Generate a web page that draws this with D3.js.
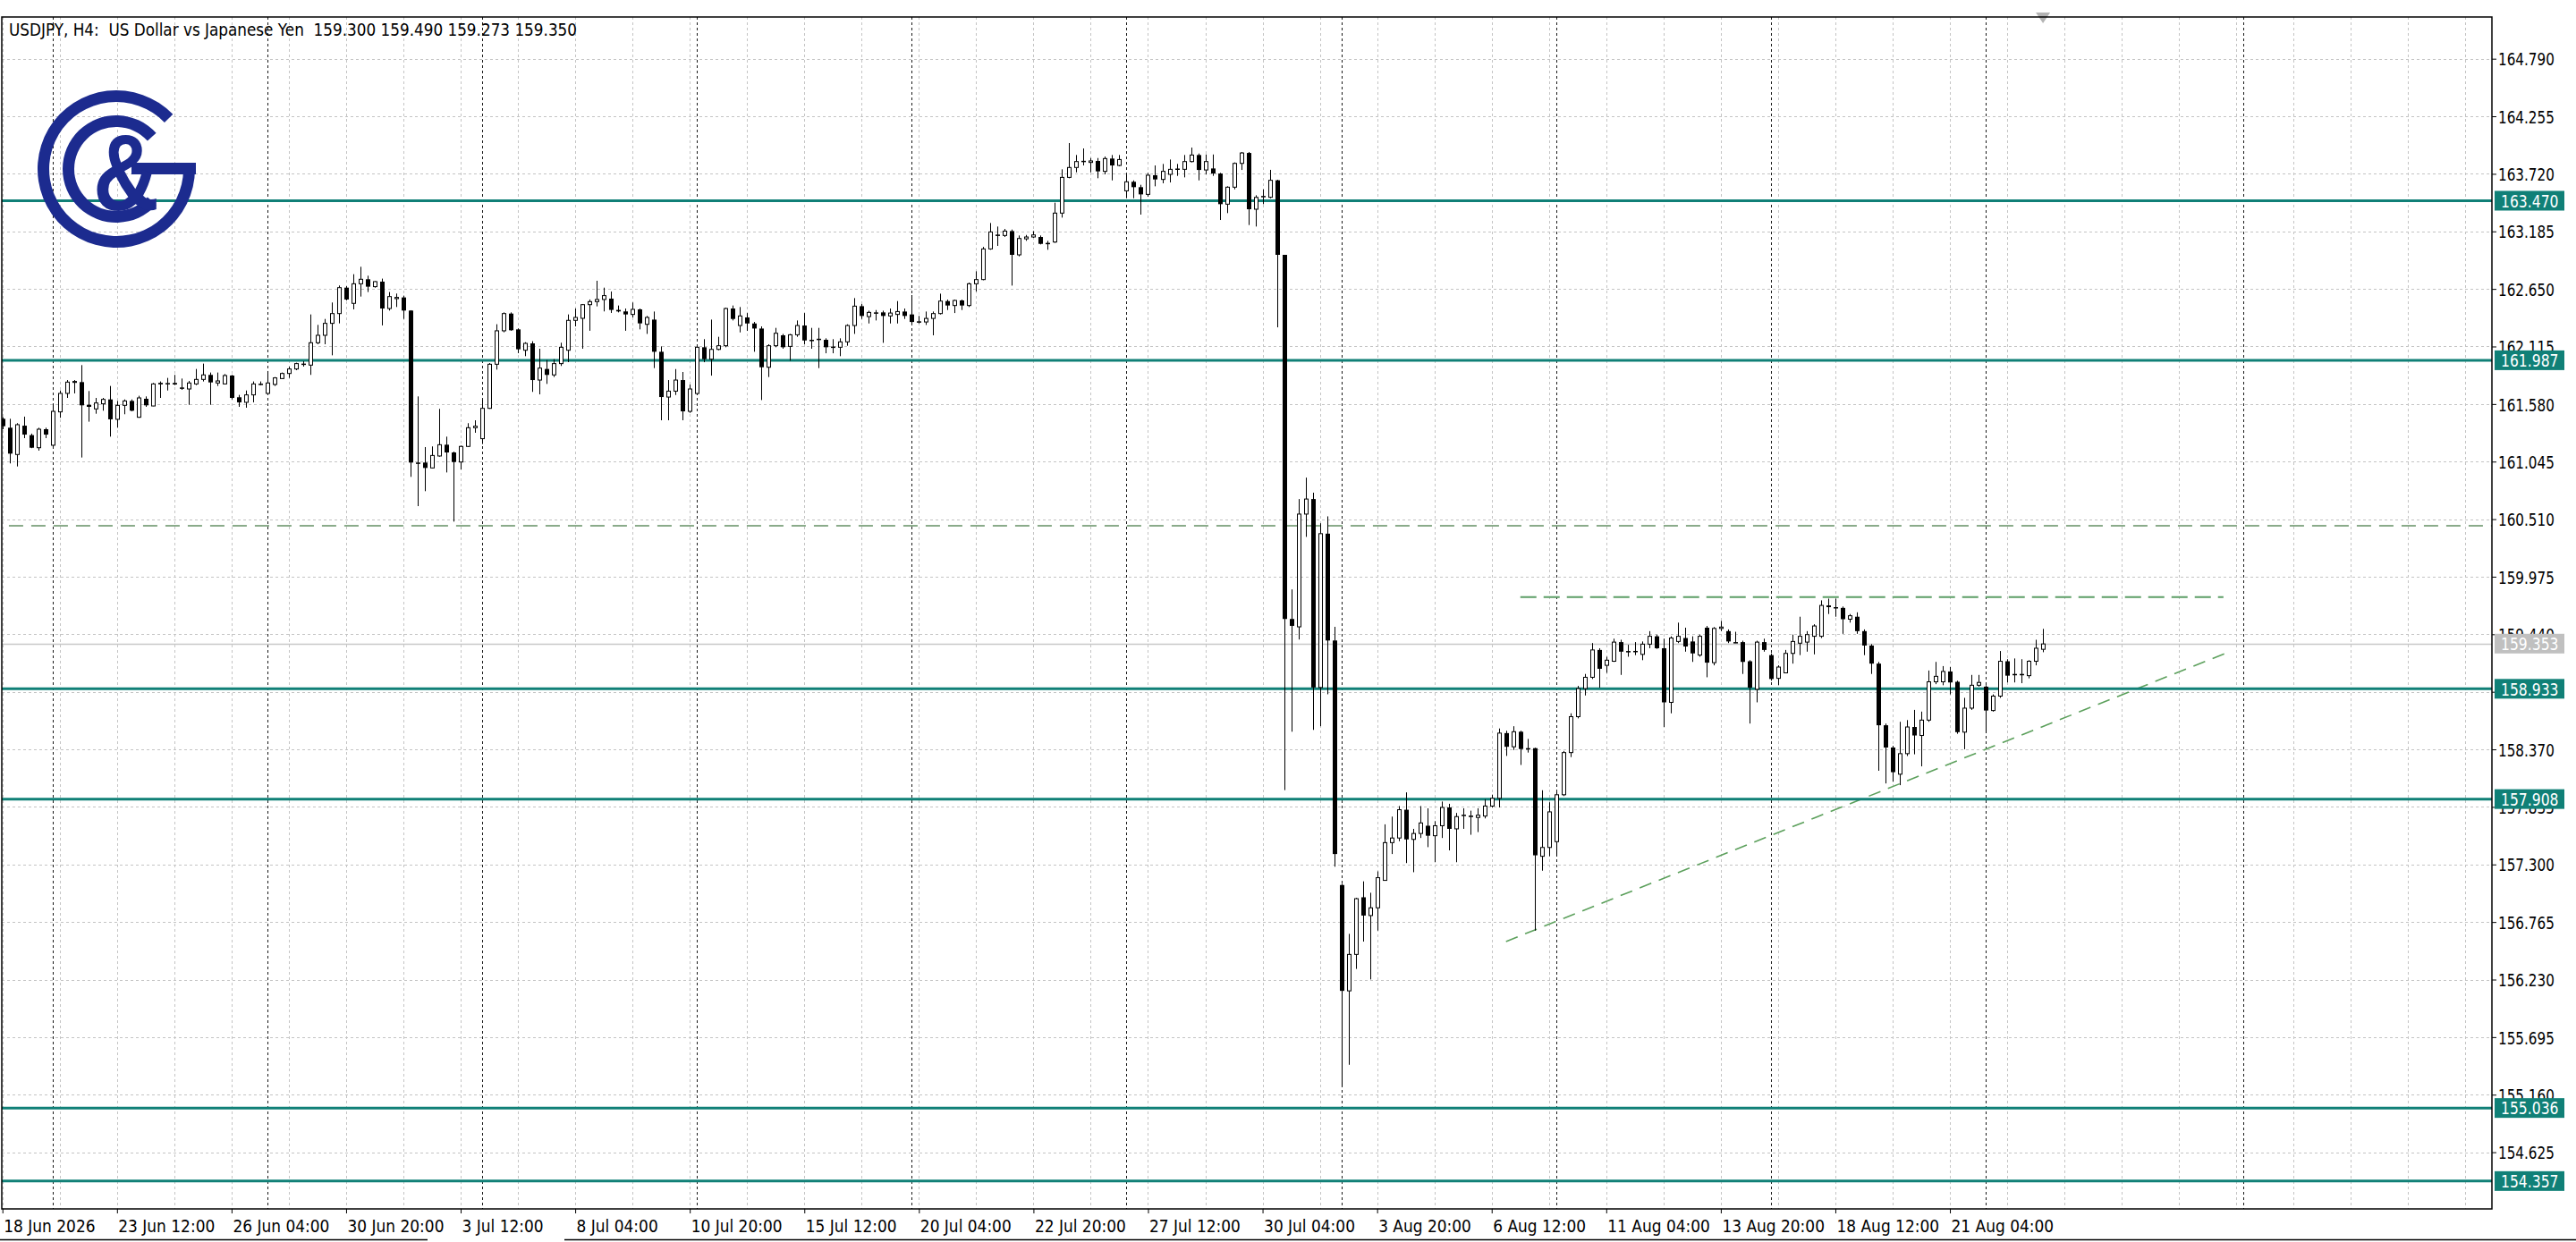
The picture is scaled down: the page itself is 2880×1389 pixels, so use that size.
<!DOCTYPE html>
<html><head><meta charset="utf-8">
<script src="https://cdn.jsdelivr.net/npm/d3@7"></script>
<style>html,body{margin:0;padding:0;background:#fff;}svg{display:block;}</style>
</head><body>
<svg id="chart" width="2880" height="1389"></svg>
<script>
// ---------------- DATA ----------------
const symbolName = "USDJPY, H4:  US Dollar vs Japanese Yen";
const openP = [161.443,161.360,161.111,161.379,161.291,161.174,161.346,161.197,161.507,161.679,
161.781,161.784,161.573,161.535,161.582,161.623,161.438,161.568,161.609,161.457,
161.629,161.562,161.767,161.770,161.776,161.734,161.720,161.767,161.809,161.851,
161.776,161.767,161.845,161.643,161.596,161.665,161.762,161.679,161.762,161.817,
161.864,161.906,161.956,161.942,162.150,162.219,162.330,162.421,162.662,162.516,
162.698,162.740,162.671,162.718,162.468,162.560,162.571,162.449,161.036,161.036,
160.986,161.097,161.202,161.130,161.041,161.186,161.360,161.258,161.540,161.950,
162.261,162.421,162.274,162.080,162.144,161.803,161.906,161.851,161.956,162.080,
162.358,162.377,162.504,162.532,162.552,162.560,162.455,162.441,162.413,162.460,
162.321,162.365,162.066,161.645,161.700,161.803,161.512,161.678,162.108,161.997,
162.088,162.122,162.468,162.310,162.385,162.329,162.282,161.922,162.122,162.219,
162.116,162.224,162.310,162.177,162.180,162.177,162.108,162.108,162.158,162.310,
162.490,162.393,162.432,162.432,162.399,162.413,162.440,162.413,162.349,162.343,
162.376,162.421,162.537,162.496,162.543,162.496,162.698,162.737,163.022,163.155,
163.147,163.188,162.967,163.116,163.133,163.133,163.078,163.086,163.355,163.687,
163.779,163.834,163.826,163.840,163.743,163.862,163.798,163.562,163.646,163.596,
163.529,163.707,163.668,163.715,163.762,163.762,163.834,163.895,163.756,163.770,
163.723,163.438,163.596,163.817,163.914,163.391,163.507,163.502,163.660,162.967,
159.582,159.509,160.557,160.697,158.945,160.375,159.382,157.109,156.125,156.464,
156.995,156.825,156.897,157.152,157.503,157.546,157.809,157.533,157.588,157.660,
157.567,157.660,157.830,157.631,157.754,157.745,157.737,157.750,157.843,157.915,
158.521,158.394,158.534,158.381,158.381,157.376,157.458,157.512,157.948,158.340,
158.674,158.935,159.040,159.294,159.151,159.189,159.367,159.284,159.278,159.253,
159.348,159.421,159.310,158.807,159.373,159.405,159.373,159.246,159.501,159.176,
159.494,159.469,159.367,159.367,159.189,158.928,159.367,159.246,159.030,159.081,
159.262,159.357,159.367,159.421,159.421,159.708,159.692,159.685,159.580,159.603,
159.469,159.335,159.167,158.594,158.387,158.139,158.330,158.578,158.499,158.642,
158.998,158.998,159.094,158.998,158.530,158.753,158.966,158.953,158.731,158.865,
159.189,159.071,159.071,159.055,159.189,159.300];
const highP = [161.457,161.443,161.402,161.463,161.305,161.360,161.360,161.582,161.706,161.803,
161.803,161.942,161.701,161.637,161.637,161.748,161.609,161.623,161.623,161.657,
161.651,161.776,161.790,161.823,161.851,161.817,161.795,161.906,161.956,161.873,
161.873,161.859,161.851,161.665,161.706,161.790,161.790,161.887,161.831,161.873,
161.928,161.964,161.978,162.413,162.316,162.371,162.524,162.682,162.676,162.787,
162.856,162.773,162.723,162.746,162.621,162.607,162.588,162.452,161.651,161.180,
161.186,161.535,161.277,161.138,161.194,161.402,161.429,161.623,161.961,162.322,
162.432,162.432,162.283,162.155,162.164,162.094,161.989,161.997,162.150,162.413,
162.468,162.510,162.552,162.726,162.662,162.626,162.496,162.468,162.524,162.468,
162.399,162.440,162.116,161.803,161.905,161.878,161.761,162.116,162.183,162.365,
162.205,162.476,162.496,162.482,162.426,162.343,162.302,162.136,162.288,162.232,
162.232,162.357,162.426,162.288,162.288,162.191,162.183,162.191,162.321,162.565,
162.510,162.448,162.454,162.448,162.468,162.537,162.468,162.593,162.399,162.440,
162.440,162.606,162.551,162.551,162.551,162.709,162.814,163.041,163.263,163.230,
163.208,163.202,163.147,163.152,163.188,163.147,163.097,163.452,163.762,164.006,
163.895,163.956,163.867,163.867,163.881,163.895,163.895,163.715,163.659,163.618,
163.729,163.798,163.812,163.853,163.812,163.895,163.964,163.909,163.900,163.900,
163.729,163.604,163.826,163.923,163.923,163.521,163.576,163.757,163.665,162.967,
159.857,160.697,160.896,160.756,160.472,160.536,159.509,157.120,156.655,156.990,
157.143,157.037,157.236,157.673,157.745,157.843,157.970,157.631,157.843,157.822,
157.703,157.885,157.864,157.779,157.822,157.800,157.822,157.906,157.949,158.564,
158.543,158.585,158.543,158.467,158.385,157.990,157.878,157.974,158.355,158.705,
158.960,159.071,159.358,159.310,159.231,159.399,159.389,159.342,159.367,159.373,
159.469,159.437,159.399,159.421,159.548,159.501,159.421,159.437,159.517,159.507,
159.564,159.485,159.463,159.380,159.199,159.380,159.399,159.262,159.151,159.294,
159.437,159.603,159.469,159.533,159.755,159.771,159.771,159.698,159.628,159.644,
159.485,159.348,159.183,158.610,158.403,158.626,158.642,158.737,158.721,159.103,
159.183,159.144,159.135,159.008,158.849,159.062,159.062,158.966,158.881,159.284,
159.208,159.215,159.208,159.199,159.389,159.490];
const lowP = [161.346,161.028,161.000,161.263,161.170,161.147,161.263,161.186,161.452,161.637,
161.679,161.083,161.416,161.490,161.518,161.277,161.360,161.485,161.512,161.452,
161.554,161.560,161.637,161.706,161.756,161.712,161.573,161.756,161.790,161.573,
161.748,161.762,161.623,161.554,161.546,161.596,161.754,161.673,161.748,161.812,
161.823,161.895,161.928,161.851,162.136,162.136,162.033,162.330,162.543,162.460,
162.579,162.621,162.662,162.311,162.449,162.482,162.371,160.903,160.631,160.770,
160.983,161.091,160.944,160.487,160.972,161.180,161.313,161.208,161.535,161.900,
162.247,162.261,162.053,162.025,161.693,161.670,161.767,161.831,161.934,161.970,
162.302,162.094,162.261,162.488,162.441,162.427,162.432,162.261,162.385,162.274,
162.232,161.914,161.429,161.429,161.664,161.429,161.498,161.664,161.969,161.844,
162.080,162.108,162.357,162.246,162.260,162.066,161.617,161.831,162.108,162.094,
161.983,162.205,162.136,162.094,161.914,162.052,162.052,162.025,162.122,162.232,
162.371,162.329,162.357,162.149,162.329,162.329,162.371,162.329,162.329,162.315,
162.219,162.413,162.454,162.426,162.454,162.482,162.626,162.731,163.014,163.050,
163.133,162.681,162.953,163.097,163.125,163.064,163.014,163.078,163.313,163.679,
163.734,163.798,163.734,163.679,163.715,163.659,163.790,163.493,163.493,163.341,
163.507,163.604,163.632,163.640,163.701,163.687,163.826,163.659,163.715,163.701,
163.291,163.355,163.576,163.756,163.244,163.230,163.438,163.493,162.293,157.991,
158.534,159.391,160.345,158.551,158.585,158.882,157.279,155.235,155.438,156.329,
156.583,156.231,156.685,157.150,157.397,157.516,157.313,157.228,157.546,157.461,
157.321,157.546,157.431,157.321,157.631,157.576,157.601,157.728,157.830,157.830,
158.309,158.364,158.225,158.340,156.685,157.242,157.376,157.376,157.936,158.298,
158.658,158.871,159.024,158.944,159.081,159.183,159.062,159.231,159.246,159.199,
159.310,159.304,158.578,158.705,159.358,159.278,159.183,159.231,159.040,159.151,
159.469,159.358,159.358,159.071,158.610,158.807,159.278,159.008,158.966,159.081,
159.167,159.246,159.278,159.253,159.405,159.628,159.603,159.444,159.548,159.444,
159.246,159.071,158.171,158.053,158.069,158.037,158.308,158.324,158.212,158.626,
158.976,158.966,158.881,158.515,158.371,158.737,158.953,158.521,158.721,158.849,
158.992,158.992,158.985,159.030,159.151,159.273];
const closeP = [161.374,161.119,161.388,161.296,161.174,161.346,161.296,161.512,161.679,161.784,
161.790,161.568,161.554,161.590,161.623,161.438,161.568,161.609,161.518,161.637,
161.568,161.767,161.773,161.771,161.762,161.726,161.776,161.809,161.851,161.781,
161.795,161.845,161.637,161.596,161.665,161.767,161.765,161.776,161.823,161.864,
161.906,161.956,161.947,162.150,162.219,162.330,162.421,162.662,162.552,162.698,
162.740,162.671,162.718,162.468,162.579,162.571,162.449,161.036,161.030,160.986,
161.102,161.202,161.130,161.041,161.186,161.360,161.374,161.540,161.950,162.261,
162.421,162.266,162.089,162.144,161.803,161.914,161.851,161.956,162.108,162.358,
162.385,162.504,162.532,162.552,162.588,162.455,162.441,162.413,162.460,162.330,
162.385,162.066,161.645,161.700,161.803,161.512,161.720,162.108,161.997,162.088,
162.122,162.468,162.371,162.399,162.329,162.282,161.922,162.122,162.238,162.108,
162.224,162.310,162.171,162.171,162.183,162.108,162.110,162.158,162.310,162.490,
162.399,162.432,162.430,162.399,162.426,162.440,162.399,162.343,162.346,162.376,
162.421,162.537,162.496,162.543,162.496,162.698,162.737,163.022,163.180,163.152,
163.188,162.967,163.119,163.133,163.152,163.069,163.069,163.355,163.687,163.779,
163.834,163.837,163.840,163.743,163.862,163.798,163.853,163.646,163.596,163.529,
163.707,163.668,163.743,163.762,163.765,163.834,163.895,163.756,163.834,163.723,
163.438,163.596,163.817,163.914,163.391,163.501,163.510,163.660,162.967,159.582,
159.518,160.557,160.697,158.945,160.375,159.382,157.397,156.125,156.464,156.982,
156.825,156.897,157.177,157.503,157.546,157.809,157.533,157.588,157.686,157.567,
157.660,157.830,157.631,157.745,157.758,157.750,157.758,157.843,157.915,158.521,
158.394,158.534,158.373,158.378,157.385,157.458,157.789,157.948,158.340,158.674,
158.935,159.040,159.294,159.119,159.199,159.367,159.278,159.281,159.281,159.348,
159.421,159.310,158.807,159.405,159.421,159.326,159.262,159.421,159.176,159.494,
159.507,159.373,159.364,159.183,158.944,159.367,159.294,159.024,159.135,159.262,
159.373,159.421,159.437,159.517,159.708,159.692,159.690,159.580,159.612,159.469,
159.335,159.167,158.594,158.387,158.158,158.330,158.578,158.499,158.642,158.998,
159.049,159.094,158.992,158.530,158.753,158.966,158.992,158.731,158.865,159.189,
159.055,159.068,159.068,159.189,159.310,159.350];

const priceTicks = [164.790,164.255,163.720,163.185,162.650,162.115,161.580,161.045,160.510,159.975,
159.440,158.905,158.370,157.835,157.300,156.765,156.230,155.695,155.160,154.625];
const timeLabels = ["18 Jun 2026","23 Jun 12:00","26 Jun 04:00","30 Jun 20:00","3 Jul 12:00","8 Jul 04:00",
"10 Jul 20:00","15 Jul 12:00","20 Jul 04:00","22 Jul 20:00","27 Jul 12:00","30 Jul 04:00",
"3 Aug 20:00","6 Aug 12:00","11 Aug 04:00","13 Aug 20:00","18 Aug 12:00","21 Aug 04:00"];
const barsPerLabel = 16;
const barsPerGrid = 8;
const weekStartBars = [7,37,67,97,127,157,187,217,247,277,313];
const levelPrices = [163.470,161.987,158.933,157.908,155.036,154.357];
const bidPrice = 159.353;
const oldLevel = [{bar:0.9, price:160.448},{bar:347.7, price:160.448}];
const resistanceLine = [{bar:212, price:159.786},{bar:310.2, price:159.786}];
const trendLine = [{bar:210, price:156.584},{bar:311.2, price:159.282}];

// ---------------- DRAW ----------------
const W = 2880, H = 1389;
const plot = {left:2, top:19, right:2786, bottom:1352};
const x = d3.scaleLinear().domain([-0.09, 347.7]).range([plot.left, plot.right]);
const y = d3.scaleLinear().domain([165.178, 154.098]).range([plot.top, plot.bottom]);
const TEAL = "#108077";
const FONT = "DejaVu Sans, Verdana, sans-serif";
const fmt = d3.format(".3f");

const svg = d3.select("#chart");
svg.append("rect").attr("width",W).attr("height",H).attr("fill","#fff");
svg.append("defs").append("clipPath").attr("id","plotclip").append("rect")
  .attr("x",plot.left).attr("y",plot.top).attr("width",plot.right-plot.left).attr("height",plot.bottom-plot.top);

function fit(sel, factor){
  sel.each(function(){
    const w = this.getComputedTextLength();
    this.setAttribute("textLength",(w*factor).toFixed(1));
    this.setAttribute("lengthAdjust","spacingAndGlyphs");
  });
}

const g = svg.append("g").attr("clip-path","url(#plotclip)");

// grid
const nBars = openP.length;
const gridBars = d3.range(0, 348, barsPerGrid);
g.append("g").selectAll("line").data(gridBars).join("line")
  .attr("x1",d=>Math.round(x(d))+0.5).attr("x2",d=>Math.round(x(d))+0.5)
  .attr("y1",plot.top).attr("y2",plot.bottom)
  .attr("stroke","#c4c4c4").attr("stroke-width",1).attr("stroke-dasharray","3,3");
g.append("g").selectAll("line").data(priceTicks).join("line")
  .attr("x1",plot.left).attr("x2",plot.right)
  .attr("y1",d=>Math.round(y(d))+0.5).attr("y2",d=>Math.round(y(d))+0.5)
  .attr("stroke","#c4c4c4").attr("stroke-width",1).attr("stroke-dasharray","3,3");

// week separators
g.append("g").selectAll("line").data(weekStartBars).join("line")
  .attr("x1",d=>Math.round(x(d))+0.5).attr("x2",d=>Math.round(x(d))+0.5)
  .attr("y1",plot.top).attr("y2",plot.bottom)
  .attr("stroke","#1a1a1a").attr("stroke-width",1).attr("stroke-dasharray","3,3");

// logo
const logo = svg.append("g").attr("transform","translate(130,189)").attr("fill","#1c2b8f");
logo.append("path").attr("d", d3.arc()({innerRadius:75, outerRadius:88, startAngle:Math.PI/2, endAngle:Math.PI*2+46*Math.PI/180}));
logo.append("rect").attr("x",17).attr("y",-7).attr("width",72).attr("height",13);
logo.append("path").attr("d", d3.arc()({innerRadius:47, outerRadius:60, startAngle:132*Math.PI/180, endAngle:Math.PI*2+48*Math.PI/180}));
const amp = logo.append("text").attr("x",11).attr("y",46).attr("text-anchor","middle")
  .attr("font-family","Liberation Sans, Arial, sans-serif").attr("font-weight","bold").attr("font-size",120).text("&");
amp.attr("textLength",74).attr("lengthAdjust","spacingAndGlyphs");

// dashed lines
const lineGen = d3.line().x(d=>x(d.bar)).y(d=>y(d.price));
g.append("path").datum(oldLevel).attr("d",lineGen).attr("fill","none")
  .attr("stroke","#8aab8a").attr("stroke-width",2).attr("stroke-dasharray","16,9");
g.append("path").datum(resistanceLine).attr("d",lineGen).attr("fill","none")
  .attr("stroke","#5c9e66").attr("stroke-width",2).attr("stroke-dasharray","18,8");
g.append("path").datum(trendLine).attr("d",lineGen).attr("fill","none")
  .attr("stroke","#5ca05c").attr("stroke-width",1.6).attr("stroke-dasharray","14,9");

// bid line
g.append("line").attr("x1",plot.left).attr("x2",plot.right)
  .attr("y1",Math.round(y(bidPrice))+0.5).attr("y2",Math.round(y(bidPrice))+0.5)
  .attr("stroke","#c8c8c8").attr("stroke-width",1.5);

// teal levels
g.append("g").selectAll("line").data(levelPrices).join("line")
  .attr("x1",plot.left).attr("x2",plot.right)
  .attr("y1",d=>y(d)).attr("y2",d=>y(d))
  .attr("stroke",TEAL).attr("stroke-width",3);

// candles
const bars = d3.range(nBars).map(i=>({i, o:openP[i], h:highP[i], l:lowP[i], c:closeP[i]}));
const cg = g.append("g");
cg.selectAll("line").data(bars).join("line")
  .attr("x1",d=>Math.round(x(d.i))+0.5).attr("x2",d=>Math.round(x(d.i))+0.5)
  .attr("y1",d=>y(d.h)).attr("y2",d=>y(d.l))
  .attr("stroke","#000").attr("stroke-width",1);
cg.selectAll("rect.bear").data(bars.filter(d=>d.c<d.o)).join("rect").attr("class","bear")
  .attr("x",d=>Math.round(x(d.i))-2).attr("width",5)
  .attr("y",d=>y(d.o)).attr("height",d=>Math.max(1.5,y(d.c)-y(d.o)))
  .attr("fill","#000");
cg.selectAll("rect.bull").data(bars.filter(d=>d.c>=d.o)).join("rect").attr("class","bull")
  .attr("x",d=>Math.round(x(d.i))-1.5).attr("width",4)
  .attr("y",d=>y(d.c)).attr("height",d=>Math.max(0.5,y(d.o)-y(d.c)))
  .attr("fill","#fff").attr("stroke","#000").attr("stroke-width",1);

// shift marker
const last = nBars-1;
svg.append("path").attr("d",`M${x(last)-8},14 L${x(last)+8},14 L${x(last)},26 Z`).attr("fill","#b4b4b4");

// frame
svg.append("rect").attr("x",plot.left).attr("y",plot.top)
  .attr("width",plot.right-plot.left).attr("height",plot.bottom-plot.top)
  .attr("fill","none").attr("stroke","#000").attr("stroke-width",1.5);

// title
const last4 = [openP[last],highP[last],lowP[last],closeP[last]].map(fmt).join(" ");
const title = svg.append("text").attr("x",10).attr("y",39.5)
  .attr("font-family",FONT).attr("font-size",20).attr("fill","#000")
  .style("white-space","pre").text(symbolName + "  " + last4);
title.attr("textLength",635).attr("lengthAdjust","spacingAndGlyphs");

// right axis
const yAxis = d3.axisRight(y).tickValues(priceTicks).tickFormat(fmt).tickSize(5).tickPadding(2);
const ya = svg.append("g").attr("transform",`translate(${plot.right},0)`).call(yAxis);
ya.select(".domain").remove();
ya.selectAll(".tick line").attr("stroke","#000");
ya.selectAll("text").attr("font-family",FONT).attr("font-size",20).attr("fill","#000").attr("dy","0.36em");
fit(ya.selectAll("text"), 0.76);

// level labels
function priceBox(p, fill){
  const gb = svg.append("g").attr("transform",`translate(${plot.right+3},${y(p)})`);
  gb.append("rect").attr("x",0).attr("y",-11).attr("width",78).attr("height",22).attr("fill",fill);
  const t = gb.append("text").attr("x",7).attr("y",0).attr("dy","0.36em")
    .attr("font-family",FONT).attr("font-size",20).attr("fill","#fff").text(fmt(p));
  fit(t, 0.78);
}
levelPrices.forEach(p=>priceBox(p, TEAL));
priceBox(bidPrice, "#c0c0c0");

// bottom axis
const labelBars = timeLabels.map((_,k)=>k*barsPerLabel);
const xAxis = d3.axisBottom(x).tickValues(labelBars).tickFormat((d,k)=>timeLabels[k]).tickSize(5);
const xa = svg.append("g").attr("transform",`translate(0,${plot.bottom})`).call(xAxis);
xa.select(".domain").remove();
xa.selectAll(".tick line").attr("stroke","#000");
xa.selectAll("text").attr("font-family",FONT).attr("font-size",20).attr("fill","#000")
  .attr("text-anchor","start").attr("x",1).attr("y",25.5).attr("dy",0);
fit(xa.selectAll("text"), 0.85);

// bottom window edge
svg.append("line").attr("x1",0).attr("x2",478).attr("y1",1386.5).attr("y2",1386.5).attr("stroke","#000").attr("stroke-width",1.5);
svg.append("line").attr("x1",631).attr("x2",W).attr("y1",1386.5).attr("y2",1386.5).attr("stroke","#000").attr("stroke-width",1.5);
</script>
</body></html>
